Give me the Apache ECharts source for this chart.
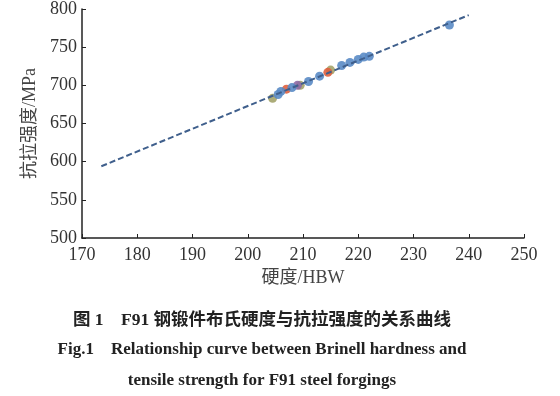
<!DOCTYPE html>
<html><head><meta charset="utf-8">
<script src="https://cdn.jsdelivr.net/npm/echarts@6/dist/echarts.min.js"></script>
<style>html,body{margin:0;padding:0;background:#fff}#c{width:560px;height:396px}</style>
</head><body><div id="c"></div>
<script>
const xTicks = [170, 180, 190, 200, 210, 220, 230, 240, 250];
const yTicks = [500, 550, 600, 650, 700, 750, 800];
// fitted line end points
const fitX = [173.5, 240];
const fitY = [594, 792];
// measured points by colour group
const blueX = [205.5, 206, 208, 211, 213, 217, 218.5, 220, 221, 222, 236.5];
const blueY = [688, 692, 697, 705, 712, 726, 730, 734, 737, 738, 779];
const redX = [207, 214.5];
const redY = [695, 717];
const oliveX = [204.5, 209.5, 215];
const oliveY = [683, 700, 720];
const purpleX = [209];
const purpleY = [700];
const captions = [
  '图 1　F91 钢锻件布氏硬度与抗拉强度的关系曲线',
  'Fig.1　Relationship curve between Brinell hardness and',
  'tensile strength for F91 steel forgings'
];

const zip = (a, b) => a.map((v, i) => [v, b[i]]);
const serif = '"Liberation Serif", "Times New Roman", serif';
const cjk = serif + ', "Noto Sans CJK SC"';
const chart = echarts.init(document.getElementById('c'));
const sc = (name, xs, ys, color) => ({
  type: 'scatter', name, data: zip(xs, ys), symbolSize: 9,
  itemStyle: { color, opacity: 0.9 }, z: 3
});
const capY = [320, 350, 381];
chart.setOption({
  animation: false,
  grid: { left: 82, top: 9, right: 36, bottom: 158, containLabel: false },
  xAxis: {
    type: 'value', min: xTicks[0], max: xTicks[xTicks.length - 1], interval: 10,
    name: '硬度/HBW', nameLocation: 'middle', nameGap: 28,
    nameTextStyle: { fontFamily: cjk, fontSize: 18, color: '#444' },
    axisLine: { lineStyle: { color: '#222', width: 1.5 } },
    axisTick: { inside: true, length: 4, lineStyle: { color: '#222' } },
    axisLabel: { fontFamily: serif, fontSize: 18, color: '#333', margin: 8 },
    splitLine: { show: false }
  },
  yAxis: {
    type: 'value', min: yTicks[0], max: yTicks[yTicks.length - 1], interval: 50,
    name: '抗拉强度/MPa', nameLocation: 'middle', nameGap: 40,
    nameTextStyle: { fontFamily: cjk, fontSize: 18, color: '#444' },
    axisLine: { show: true, lineStyle: { color: '#222', width: 1.5 } },
    axisTick: { show: true, inside: true, length: 4, lineStyle: { color: '#222' } },
    axisLabel: { fontFamily: serif, fontSize: 18, color: '#333', margin: 5 },
    splitLine: { show: false }
  },
  graphic: captions.map((t, i) => ({
    type: 'text', x: 262, y: capY[i],
    style: { text: t, align: 'center', verticalAlign: 'middle',
      font: 'bold ' + (i === 0 ? 17.5 : 17) + 'px ' + (i === 0 ? cjk : serif), fill: '#222' }
  })),
  series: [
    { type: 'line', data: zip(fitX, fitY), symbol: 'none', z: 4,
      lineStyle: { color: '#3f5f8c', width: 2, type: [6, 3] } },
    sc('olive', oliveX, oliveY, '#a3a36a'),
    sc('purple', purpleX, purpleY, '#8e6aa6'),
    sc('red', redX, redY, '#e0603e'),
    sc('blue', blueX, blueY, '#5a8bc5')
  ]
});
</script></body></html>
